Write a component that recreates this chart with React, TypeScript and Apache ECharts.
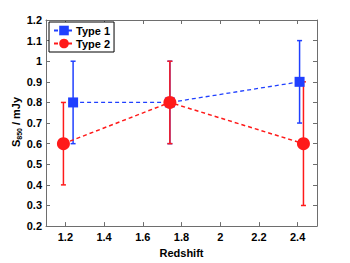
import React, { useEffect, useRef } from "react";
import * as echarts from "echarts";

const xTicks = [1.2, 1.4, 1.6, 1.8, 2.0, 2.2, 2.4];

const type1X = [1.24, 1.74, 2.41];
const type1Y = [0.8, 0.8, 0.9];
const type1Low = [0.6, 0.6, 0.7];
const type1High = [1.0, 1.0, 1.1];

const type2X = [1.19, 1.74, 2.43];
const type2Y = [0.6, 0.8, 0.6];
const type2Low = [0.4, 0.6, 0.3];
const type2High = [0.8, 1.0, 0.9];

const BLUE = "#2040ff";
const RED = "#ff1a1a";
const FRAME = "#6e6e6e";
const FONT = "'Liberation Sans', Arial, sans-serif";

function errSeries(name: string, xs: number[], lo: number[], hi: number[], color: string) {
  return {
    type: "custom",
    name,
    data: xs.map((x, i) => [x, lo[i], hi[i]]),
    renderItem: (params: any, api: any) => {
      const x = api.value(0);
      const p1 = api.coord([x, api.value(1)]);
      const p2 = api.coord([x, api.value(2)]);
      const cw = 2.5;
      const style = { stroke: color, lineWidth: 1.5 };
      return {
        type: "group",
        children: [
          { type: "line", shape: { x1: p1[0], y1: p1[1], x2: p2[0], y2: p2[1] }, style },
          { type: "line", shape: { x1: p1[0] - cw, y1: p1[1], x2: p1[0] + cw, y2: p1[1] }, style },
          { type: "line", shape: { x1: p2[0] - cw, y1: p2[1], x2: p2[0] + cw, y2: p2[1] }, style },
        ],
      };
    },
    z: 1,
    silent: true,
  };
}

export default function App() {
  const ref = useRef<HTMLDivElement>(null);
  useEffect(() => {
    if (!ref.current) return;
    const chart = echarts.init(ref.current, null, { renderer: "svg" });
    const labelStyle = { color: "#000", fontSize: 11, fontWeight: "bold" as const, fontFamily: FONT };
    const baseX = {
      type: "value",
      min: 1.1,
      max: 2.5,
      axisLine: { show: true, onZero: false, lineStyle: { color: FRAME, width: 1 } },
      axisTick: { show: true, inside: true, length: 4, customValues: xTicks, lineStyle: { color: FRAME } },
      splitLine: { show: false },
    };
    const baseY = {
      type: "value",
      min: 0.2,
      max: 1.2,
      interval: 0.1,
      axisLine: { show: true, onZero: false, lineStyle: { color: FRAME, width: 1 } },
      axisTick: { show: true, inside: true, length: 4, lineStyle: { color: FRAME } },
      splitLine: { show: false },
    };
    chart.setOption({
      animation: false,
      backgroundColor: "#fff",
      grid: { left: 46, right: 33, top: 20, bottom: 29, containLabel: false },
      legend: {
        orient: "vertical",
        left: 49,
        top: 22,
        data: ["Type 1", "Type 2"],
        backgroundColor: "#fff",
        borderColor: "#000",
        borderWidth: 1,
        padding: [3, 4, 3, 4],
        itemWidth: 20,
        itemHeight: 12,
        itemGap: 2,
        textStyle: { ...labelStyle, padding: [0, 0, 0, -3] },
      },
      graphic: [
        {
          type: "group",
          x: 16,
          y: 122,
          rotation: Math.PI / 2,
          children: [
            {
              type: "text",
              x: 0,
              y: 0,
              style: {
                text: "{a|S}{s|850}{a| / mJy}",
                align: "center",
                verticalAlign: "middle",
                rich: {
                  a: { fontSize: 11, fontWeight: "bold", fontFamily: FONT, fill: "#000", lineHeight: 14 },
                  s: { fontSize: 7, fontWeight: "bold", fontFamily: FONT, fill: "#000", padding: [7, 0, 0, 0], lineHeight: 14 },
                },
              },
            },
          ],
        },
      ],
      xAxis: [
        {
          ...baseX,
          position: "bottom",
          name: "Redshift",
          nameLocation: "middle",
          nameGap: 18,
          nameTextStyle: labelStyle,
          axisLabel: { ...labelStyle, margin: 5, customValues: xTicks, formatter: (v: number) => String(Math.round(v * 10) / 10) },
        },
        { ...baseX, position: "top", axisLabel: { show: false } },
      ],
      yAxis: [
        {
          ...baseY,
          position: "left",
          axisLabel: { ...labelStyle, margin: 4, formatter: (v: number) => String(Math.round(v * 10) / 10) },
        },
        { ...baseY, position: "right", axisLabel: { show: false } },
      ],
      series: [
        errSeries("err1", type1X, type1Low, type1High, BLUE),
        errSeries("err2", type2X, type2Low, type2High, RED),
        {
          type: "line",
          name: "Type 1",
          data: type1X.map((x, i) => [x, type1Y[i]]),
          symbol: "rect",
          symbolSize: 10,
          itemStyle: { color: BLUE },
          lineStyle: { color: BLUE, type: [4, 3], width: 1.3 },
          z: 3,
        },
        {
          type: "line",
          name: "Type 2",
          data: type2X.map((x, i) => [x, type2Y[i]]),
          symbol: "circle",
          symbolSize: 13,
          itemStyle: { color: RED },
          lineStyle: { color: RED, type: [4, 3], width: 1.5 },
          z: 4,
        },
      ],
    });
    return () => chart.dispose();
  }, []);
  return <div ref={ref} style={{ width: 350, height: 263, position: "absolute", left: 0, top: 0 }} />;
}
